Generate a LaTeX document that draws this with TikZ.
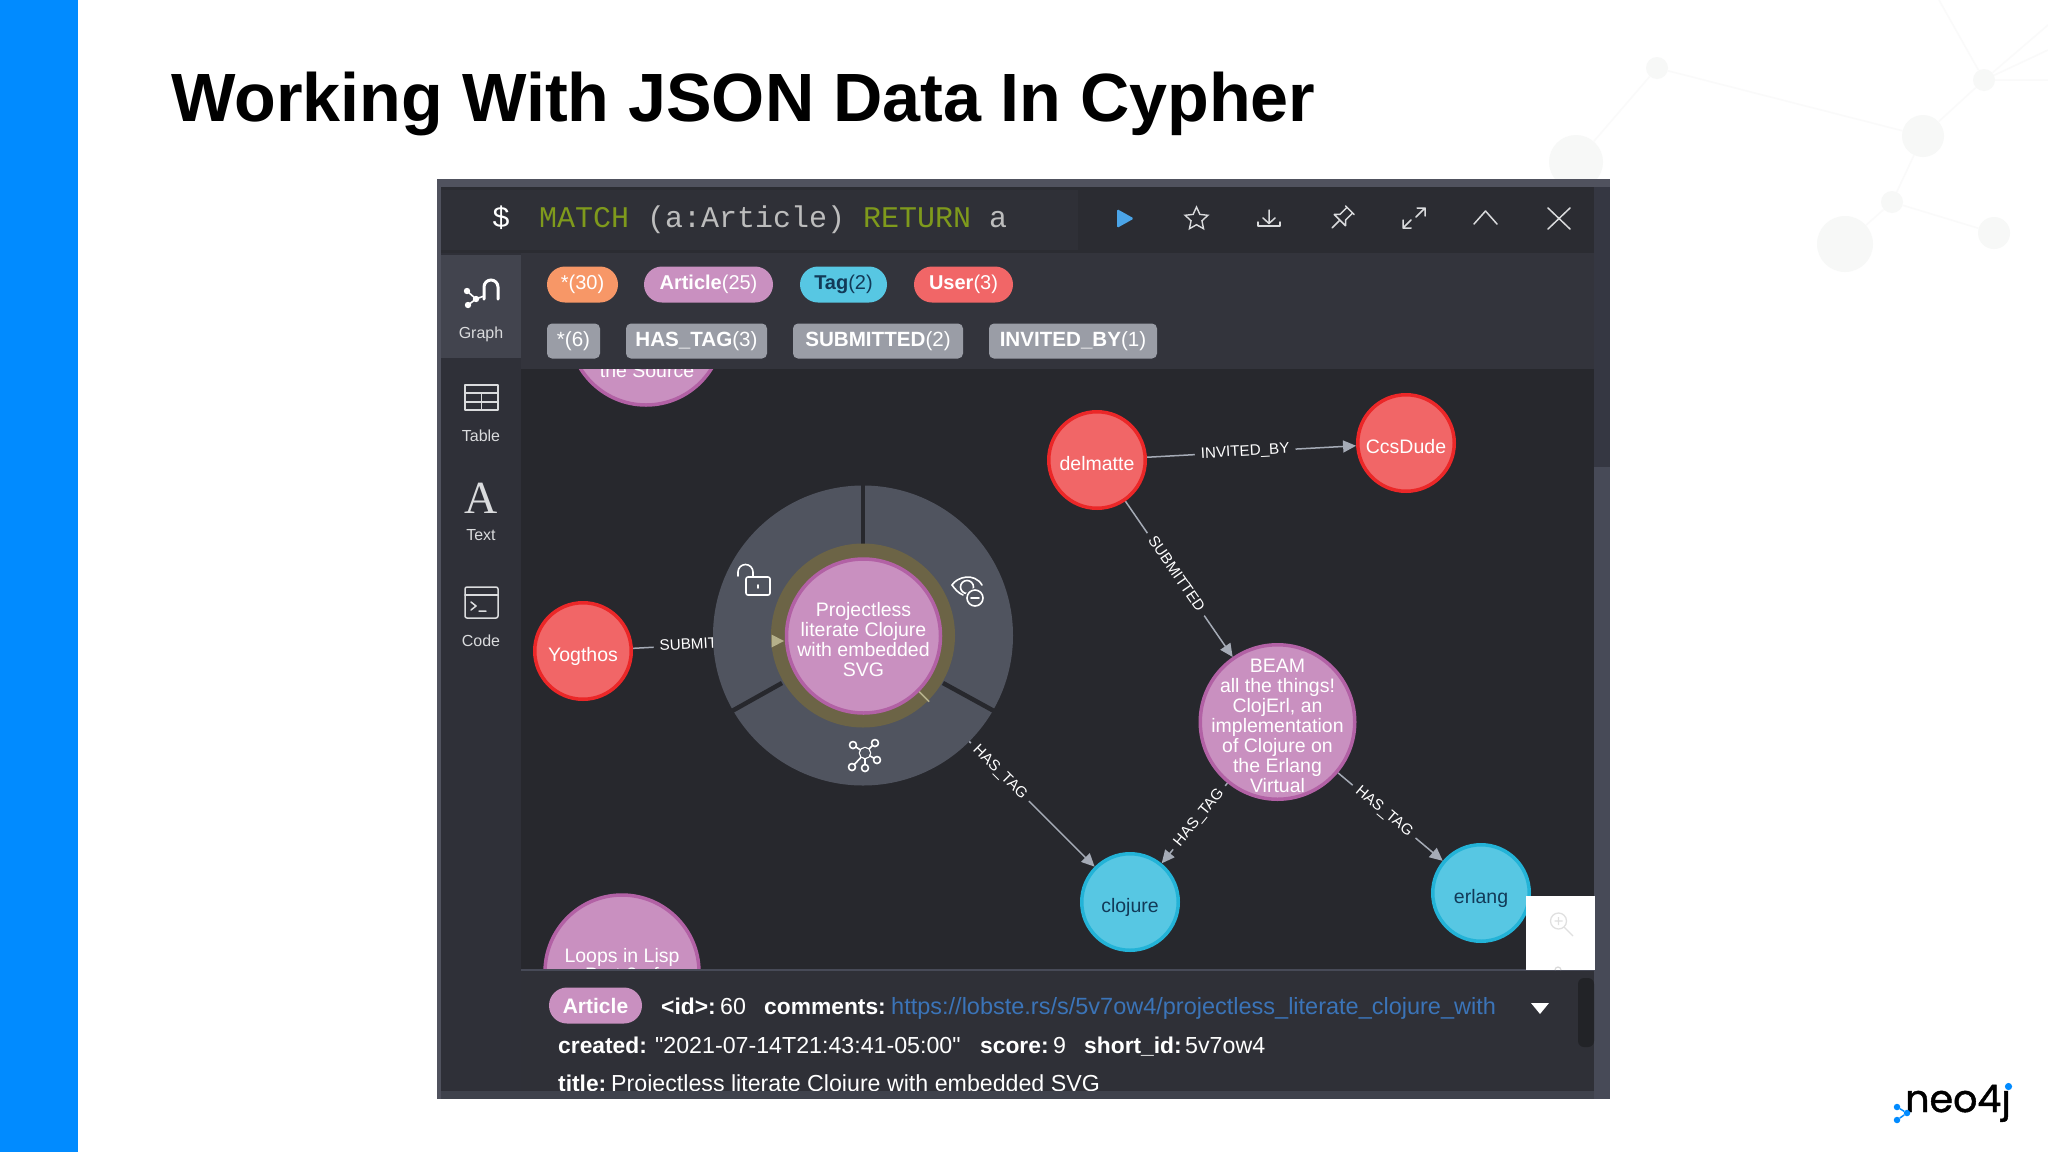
\documentclass[tikz,border=0pt]{standalone}
\usepackage{fontspec}
\setmainfont{Liberation Sans}
\setmonofont{Liberation Mono}
\newfontfamily\logofont[FakeBold=1.2]{Poppins}
\newfontfamily\qfont{Liberation Sans}
\usetikzlibrary{arrows.meta,shapes.geometric,calc}
\pgfdeclarelayer{bgl}\pgfdeclarelayer{edgel}\pgfdeclarelayer{chrome}
\pgfsetlayers{bgl,edgel,main,chrome}
\definecolor{neoblue}{HTML}{018BFF}
\definecolor{wmk}{HTML}{F7F8F7}
\definecolor{wml}{HTML}{FAFAFA}
\definecolor{barbg}{HTML}{2B2C32}
\definecolor{inputbg}{HTML}{2F3037}
\definecolor{filterbg}{HTML}{33343C}
\definecolor{sidebg}{HTML}{2F3038}
\definecolor{tabbg}{HTML}{42444E}
\definecolor{graphbg}{HTML}{27282D}
\definecolor{frametop}{HTML}{50525E}
\definecolor{frameside}{HTML}{474A57}
\definecolor{frameup}{HTML}{353742}
\definecolor{bandbg}{HTML}{3F424C}
\definecolor{infobg}{HTML}{2F3037}
\definecolor{scrolldark}{HTML}{222327}
\definecolor{artfill}{HTML}{C990C0}
\definecolor{artline}{HTML}{B261A5}
\definecolor{usefill}{HTML}{F16667}
\definecolor{useline}{HTML}{EB2728}
\definecolor{tagfill}{HTML}{57C7E3}
\definecolor{tagline}{HTML}{23B3D7}
\definecolor{tagtext}{HTML}{123A58}
\definecolor{orangep}{HTML}{F79767}
\definecolor{greyp}{HTML}{9A9DA6}
\definecolor{edgec}{HTML}{A5ABB6}
\definecolor{ringc}{HTML}{50545F}
\definecolor{haloc}{HTML}{6C6446}
\definecolor{halotip}{HTML}{B5B08A}
\definecolor{kw}{HTML}{7F9A1C}
\definecolor{cyph}{HTML}{BDBDBD}
\definecolor{linkc}{HTML}{3B74B8}
\definecolor{playc}{HTML}{4BA5E8}
\definecolor{iconc}{HTML}{DADBDD}
\newcommand{\fsz}[1]{\fontsize{#1}{#1}\selectfont}
\newcommand{\glbl}[1]{\makebox[0pt]{\raisebox{-11.5pt}[0pt][0pt]{\begin{tabular}{@{}c@{}}#1\end{tabular}}}}
\tikzset{
  x=1pt,y=-1pt,
  wmnode/.style={circle,fill=wmk,draw=none,inner sep=0pt,minimum size=#1},
  wmline/.style={draw=wml,line width=1.5pt},
  gnode/.style={circle,inner sep=0pt,minimum size=#1,line width=3.5pt,text=white,font=\fontsize{19.5}{19.4}\selectfont},
  artnode/.style={gnode=#1,fill=artfill,draw=artline},
  usernode/.style={gnode=96.5,fill=usefill,draw=useline},
  tagnode/.style={gnode=#1,fill=tagfill,draw=tagline,text=tagtext},
  cliptext/.style={inner sep=0pt,anchor=base,text=white,font=\fsz{19.5}},
  rel/.style={draw=edgec,line width=1.5pt,-{Triangle[length=13pt,width=12pt,fill=edgec]}},
  rellabel/.style={fill=graphbg,text=white,font=\fsz{15.2},sloped,inner xsep=6pt,inner ysep=0pt,text height=10pt,text depth=2pt},
  pill/.style={rounded corners=18pt,inner sep=0pt,minimum height=36pt,font=\fsz{20},text=white,anchor=center},
  gpill/.style={rounded corners=5pt,inner sep=0pt,minimum height=35pt,font=\fsz{20.6},text=white,fill=greyp,anchor=center},
  sidelab/.style={text=iconc,font=\fsz{16},inner sep=0pt},
  ico/.style={draw=iconc,line width=1.5pt,line cap=round,line join=round},
  wico/.style={draw=white,line width=1.6pt,line cap=round,line join=round},
  prop/.style={text=white,font=\fsz{23.2},inner sep=0pt,anchor=base west},
  propb/.style={text=white,font=\bfseries\fsz{22.8},inner sep=0pt,anchor=base west},
  cy/.style={font=\ttfamily\fsz{30},inner sep=0pt,anchor=base west},
}
\begin{document}
\begin{tikzpicture}
\useasboundingbox (0,0) rectangle (2048,1152);
\begin{pgfonlayer}{bgl}
\fill[white] (0,0) rectangle (2048,1152);
\fill[neoblue] (0,0) rectangle (78,1152);
% watermark network
\node[wmnode=22] (w1) at (1657,68) {};
\node[wmnode=54] (w2) at (1576,162) {};
\node[wmnode=42] (w3) at (1923,136) {};
\node[wmnode=22] (w4) at (1984,80) {};
\node[wmnode=22] (w5) at (1892,202) {};
\node[wmnode=56] (w6) at (1845,244) {};
\node[wmnode=32] (w7) at (1994,233) {};
\coordinate (we1) at (1939,0);
\coordinate (we2) at (2048,25);
\coordinate (we3) at (2048,50);
\coordinate (we4) at (2048,80);
\draw[wmline] (w1)--(w2) (w1)--(w3) (w3)--(w4) (w3)--(w5) (w5)--(w6) (w5)--(w7) (w4)--(we1) (w4)--(we2) (w4)--(we3) (w4)--(we4);
% panel
\fill[frametop] (437,179) rectangle (1610,1099);
\fill[graphbg] (521,369) rectangle (1594,970);
\fill[sidebg] (441,253) rectangle (521,1091);
\end{pgfonlayer}
%
% graph nodes
\node[artnode=154] (source) at (646,328) {};
\node[cliptext] (sourcetext) at (647,377) {the Source};
\node[artnode=154] (loops) at (622,972) {};
\node[cliptext] (loopstext) at (622,962) {Loops in Lisp};
\node[cliptext] (loopstextb) at (622,981.5) {Part 2 of};
\node[usernode] (delmatte) at (1097,460) {\glbl{delmatte}};
\node[usernode] (ccsdude) at (1406,443) {\glbl{CcsDude}};
\node[usernode] (yogthos) at (583,651) {\glbl{Yogthos}};
\node[artnode=154.5] (beam) at (1277.5,722) {\glbl{BEAM\\all the things!\\ClojErl, an\\implementation\\of Clojure on\\the Erlang\\Virtual}};
\node[tagnode=96.5] (clojure) at (1130,902) {\glbl{clojure}};
\node[tagnode=96.5] (erlang) at (1481,893) {\glbl{erlang}};
% selection ring
\fill[ringc] (863,635.5) circle[radius=150];
\draw[graphbg,line width=4.5pt] (863,485) -- (863,545);
\draw[graphbg,line width=4.5pt] (732,711) -- (782,683);
\draw[graphbg,line width=4.5pt] (994,711) -- (943,683);
\fill[haloc] (863,635.5) circle[radius=92];
\node[artnode=154] (proj) at (863.5,636) {\glbl{Projectless\\literate Clojure\\with embedded\\SVG}};
\fill[halotip] (771.5,634.5) -- (784,641) -- (771.5,647.5) -- cycle;
\draw[halotip,line width=1.5pt] (proj.-45) -- ++(10,10);
% ring icons
\begin{scope}[shift={(737,563)}]
  \draw[wico,rounded corners=2pt] (9,14) rectangle (33,32);
  \draw[wico] (1,13) -- (1,9) arc[start angle=180,end angle=360,radius=7.5] -- (16,13);
  \draw[wico] (21,22) -- (21,25);
\end{scope}
\begin{scope}[shift={(952,575)}]
  \draw[wico] (0,10) .. controls (5,2) and (22,-3) .. (30,10);
  \draw[wico] (0,10) .. controls (3,14) and (6,18) .. (11,20);
  \draw[wico] (15,12) circle[radius=6.5];
  \fill[ringc] (23,23) circle[radius=10];
  \draw[wico] (23,23) circle[radius=8];
  \draw[wico] (19,23) -- (27,23);
\end{scope}
\begin{scope}[shift={(865,753)}]
  \draw[wico] (0,0) circle[radius=5.5];
  \foreach \nx/\ny in {10/-10,-12/-8,12/7,-13/14,0/15}{
    \draw[wico] (0,0) -- (\nx,\ny);
    \fill[ringc] (\nx,\ny) circle[radius=3.5];
    \draw[wico] (\nx,\ny) circle[radius=3.5];
  }
  \fill[ringc] (0,0) circle[radius=5];
\end{scope}
%
\begin{pgfonlayer}{edgel}
\draw[rel] (delmatte) -- node[rellabel,pos=.47] {INVITED\_BY} (ccsdude);
\draw[rel] (delmatte) -- node[rellabel,pos=.47] {SUBMITTED} (beam);
\draw[rel] (yogthos) -- node[rellabel,pos=.465] {SUBMITTED} (proj);
\draw[rel] (proj) -- node[rellabel,pos=.46] {HAS\_TAG} (clojure);
\draw[rel] (beam) -- node[rellabel,pos=.43] {HAS\_TAG} (clojure);
\draw[rel] (beam) -- node[rellabel,pos=.44] {HAS\_TAG} (erlang);
\end{pgfonlayer}
%
\begin{pgfonlayer}{chrome}
% top bar
\fill[barbg] (441,187) rectangle (1594,253);
\fill[inputbg] (441,190) rectangle (1078,250);
\fill[filterbg] (521,253) rectangle (1594,369);
\fill[tabbg] (441,255) rectangle (521,358);
% right strip
\fill[frameup] (1594,187) rectangle (1610,467);
\fill[frameside] (1594,467) rectangle (1610,1099);
% cypher
\node[cy,text=white] (dollar) at (492,227) {\$};
\node[cy,text=kw] (qmatch) at (539,227) {MATCH};
\node[cy,text=cyph] (qpat) at (647,227) {(a:Article)};
\node[cy,text=kw] (qret) at (863,227) {RETURN};
\node[cy,text=cyph] (qa) at (989,227) {a};
% toolbar icons
\fill[playc,rounded corners=1.5pt] (1117,209) -- (1134,218.5) -- (1117,228) -- cycle;
\node[star,star points=5,star point ratio=2.1,draw=iconc,line width=1.4pt,inner sep=0pt,minimum size=24pt] (starbtn) at (1196.5,219) {};
\begin{scope}[shift={(1258,210)}]
  \draw[ico] (11,0) -- (11,13) (5,8) -- (11,13.5) -- (17,8);
  \draw[ico] (0,12) -- (0,16) -- (22,16) -- (22,12);
\end{scope}
\begin{scope}[shift={(1342,218)},rotate=-45]
  \draw[ico] (-6,-11) -- (6,-11) (-4,-11) -- (-4,-1) -- (-8,3) -- (8,3) -- (4,-1) -- (4,-11) (0,3) -- (0,14);
\end{scope}
\begin{scope}[shift={(1403,207)}]
  \draw[ico] (13,10) -- (22,1) (14,1) -- (22,1) -- (22,9);
  \draw[ico] (0,21) -- (8,13) (0,13) -- (0,21) -- (8,21);
\end{scope}
\draw[ico] (1474,224) -- (1485.5,211) -- (1497,224);
\draw[ico] (1548,208) -- (1570,229) (1570,208) -- (1548,229);
% filter pills
\node[pill,fill=orangep,minimum width=71pt] (p1) at (582.5,284.5) {*(30)};
\node[pill,fill=artfill,minimum width=129pt] (p2) at (708.5,284.5) {\textbf{Article}(25)};
\node[pill,fill=tagfill,minimum width=87pt,text=tagtext] (p3) at (843.5,284.5) {\textbf{Tag}(2)};
\node[pill,fill=usefill,minimum width=99pt] (p4) at (963.5,284.5) {\textbf{User}(3)};
\node[gpill,minimum width=53pt] (r1) at (573.5,341) {*(6)};
\node[gpill,minimum width=141pt] (r2) at (696.5,341) {\textbf{HAS\_TAG}(3)};
\node[gpill,minimum width=170pt] (r3) at (878,341) {\textbf{SUBMITTED}(2)};
\node[gpill,minimum width=168pt] (r4) at (1073,341) {\textbf{INVITED\_BY}(1)};
% sidebar
\draw[draw=white,line width=3pt,line cap=round] (484,299) -- (484,287) arc[start angle=180,end angle=360,radius=7] -- (498,299);
\draw[draw=white,line width=1.6pt] (467,291) -- (476,299) -- (468,305);
\fill[white] (467,291) circle[radius=3.2] (468,305) circle[radius=3.2] (476,299) circle[radius=3.2];
\draw[white,line width=1.6pt] (476,299) -- (484,296);
\node[sidelab] (lgraph) at (481,334.5) {Graph};
\draw[ico,line width=1.8pt] (465,385) rectangle (498,410);
\draw[ico,line width=1.8pt] (465,393) -- (498,393) (465,402) -- (498,402) (481.5,393) -- (481.5,410);
\node[sidelab] (ltable) at (481,436) {Table};
\node[text=iconc,inner sep=0pt,font={\fontspec{Liberation Serif}\fsz{46}}] (iconA) at (481.5,498) {A};
\node[sidelab] (ltext) at (481,535) {Text};
\draw[ico,rounded corners=2pt] (465,587) rectangle (498,618);
\draw[ico] (465,595) -- (498,595);
\draw[ico] (471,602) -- (476,606) -- (471,610) (479,611) -- (486,611);
\node[sidelab] (lcode) at (481,641) {Code};
% info panel
\fill[infobg] (521,970) rectangle (1594,1091);
\draw[line width=1.5pt,draw=frameside] (521,970) -- (1594,970);
\fill[white] (1526,896) rectangle (1595,970);
\draw[draw=black!12,line width=1.3pt] (1558.5,921) circle[radius=8] (1564,927) -- (1573,936) (1558.5,917) -- (1558.5,925) (1554.5,921) -- (1562.5,921);
\draw[draw=black!15,line width=1.2pt] (1555,970) arc[start angle=180,end angle=360,radius=3];
\node[pill,fill=artfill,minimum width=93pt,font=\bfseries\fsz{21}] (ptag) at (595.5,1005.5) {Article};
\node[propb] (i1) at (661,1014.5) {<id>:};
\node[prop] (i2) at (720,1014.5) {60};
\node[propb] (i3) at (764,1014.5) {comments:};
\node[prop,text=linkc,font=\fsz{23.5}] (i4) at (891,1014.5) {https://lobste.rs/s/5v7ow4/projectless\_literate\_clojure\_with};
\fill[white] (1531,1003) -- (1549,1003) -- (1540,1014) -- cycle;
\fill[scrolldark,rounded corners=6pt] (1578,978) rectangle (1594,1047);
\node[propb] (c1) at (558,1053.5) {created:};
\node[prop,font=\qfont\fsz{23.2}] (c2) at (655,1053.5) {"2021-07-14T21:43:41-05:00"};
\node[propb] (c3) at (980,1053.5) {score:};
\node[prop] (c4) at (1053,1053.5) {9};
\node[propb] (c5) at (1084,1053.5) {short\_id:};
\node[prop] (c6) at (1185,1053.5) {5v7ow4};
\node[propb] (t1) at (558,1091) {title:};
\node[prop] (t2) at (611,1091) {Projectless literate Clojure with embedded SVG};
\fill[bandbg] (441,1091) rectangle (1610,1099);
\fill[frametop] (437,179) rectangle (441,1099);
\fill[frameside] (1594,1091) rectangle (1610,1099);
\end{pgfonlayer}
% title
\node[inner sep=0pt,anchor=base west,font=\bfseries\fsz{68.3},text=black] (title) at (171,121) {Working With JSON Data In Cypher};
% logo
\node[inner sep=0pt,anchor=base west,font=\logofont\fsz{38},text=black] (logo) at (1905,1112) {neo4j};
\fill[white] (2005,1085) circle[radius=5];
\fill[neoblue] (2008.5,1086.5) circle[radius=3.6];
\node[circle,fill=neoblue,inner sep=0pt,minimum size=6.5pt] (l1) at (1897,1107) {};
\node[circle,fill=neoblue,inner sep=0pt,minimum size=6.5pt] (l2) at (1907,1113) {};
\node[circle,fill=neoblue,inner sep=0pt,minimum size=6.5pt] (l3) at (1897,1120) {};
\draw[neoblue,line width=1.5pt] (l1)--(l2)--(l3);
\end{tikzpicture}
\end{document}
